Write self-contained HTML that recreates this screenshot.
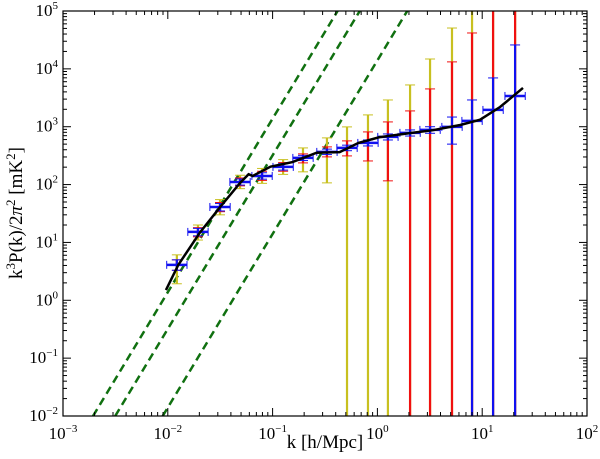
<!DOCTYPE html>
<html><head><meta charset="utf-8"><style>
html,body{margin:0;padding:0;background:#fff;width:600px;height:459px;overflow:hidden;}
svg{display:block;font-family:"Liberation Serif",serif;overflow:hidden;}
</style></head><body>
<svg id="chart" width="600" height="459" viewBox="0 0 600 459" xmlns="http://www.w3.org/2000/svg">
<rect width="600" height="459" fill="#fff"/>
<g id="plot"></g>
<text x="325" y="448" font-size="19" text-anchor="middle">k [h/Mpc]</text>
<text transform="translate(22,213) rotate(-90)" font-size="19" text-anchor="middle">k<tspan dy="-7" font-size="13">3</tspan><tspan dy="7">P(k)/2</tspan><tspan font-style="italic">π</tspan><tspan dy="-7" font-size="13">2</tspan><tspan dy="7"> [mK</tspan><tspan dy="-7" font-size="13">2</tspan><tspan dy="7">]</tspan></text>
</svg>
<script>
// ---- data ----
const lineK = [0.0096,0.0126,0.0204,0.0316,0.049,0.059,0.0646,0.0955,0.155,0.263,0.436,0.66,1.05,2.04,3.39,6.17,9.55,14.8,24.5];
const lineP = [1.5,4.1,15.1,41,107,151,141,204,245,355,363,525,660,776,871,1070,1320,2190,4680];
const binK = [0.0122,0.0194,0.0315,0.0489,0.0793,0.126,0.195,0.330,0.513,0.813,1.26,2.05,3.18,5.15,8.0,12.7,20.6];
const binP = [4.1,15.2,41,111,141,202,289,367,430,525,667,782,881,993,1260,1950,3400];
const yellowUp = [6.1,20,55,145,190,270,430,641,993,1600,2900,5270,14800,50800,1e7,1e7,1e7];
const yellowLo = [1.93,11,30,85,105,150,166,107,0,0,0,0,0,0,0,0,0];
const redUp = [5,18,49,130,170,240,339,448,569,813,1210,1875,4500,13200,41700,1e7,1e7];
const redLo = [3.3,12.5,34,95,118,170,237,301,313,256,116,0,0,0,0,0,0];
const blueUp = [5,17.5,47,125,160,230,320,410,480,590,750,880,1000,1470,2900,6970,25900];
const blueLo = [3.3,13,35,98,124,178,260,330,385,465,590,690,770,500,0,0,0];
const slopeAmps = [1.38e6,3.2e5,1.4e4];
const xTicks = [-3,-2,-1,0,1,2];
const yTicks = [-2,-1,0,1,2,3,4,5];

// ---- axes ----
const L=63,R=587,T=11,B=416;
const X = k => L + (Math.log10(k)+3)/5*(R-L);
const Y = p => { if(p<=0) return B; const v = T + (5-Math.log10(p))/7*(B-T); return Math.max(T, Math.min(B,v)); };
const NS="http://www.w3.org/2000/svg";
const plot=document.getElementById('plot');
function mk(tag,attrs,parent){const e=document.createElementNS(NS,tag);for(const a in attrs)e.setAttribute(a,attrs[a]);(parent||plot).appendChild(e);return e;}

const clipDefs=mk('defs',{});
const cp=mk('clipPath',{id:'clip'},clipDefs);
mk('rect',{x:L,y:T,width:R-L,height:B-T},cp);
const data=mk('g',{'clip-path':'url(#clip)'});



slopeAmps.forEach((A,i)=>{
  const p1=1e-2,p2=1e5;
  const k1=Math.cbrt(p1/A),k2=Math.cbrt(p2/A);
  const l=mk('line',{x1:X(k1),y1:Y(p1),x2:X(k2),y2:Y(p2),stroke:'#107010','stroke-width':2.5,'stroke-dasharray':'8,5'},data);
  
  
});

function errSeries(up,lo,color,name,cap){
  binK.forEach((k,i)=>{
    const x=X(k);
    const g=mk('g',{},data);
    
    
    mk('line',{x1:x,x2:x,y1:Y(up[i]),y2:Y(lo[i]),stroke:color,'stroke-width':2.2},g);
    [up[i],lo[i]].forEach(v=>{ if(v>0 && v<1e5) mk('line',{x1:x-cap,x2:x+cap,y1:Y(v),y2:Y(v),stroke:color,'stroke-width':1},g);});
  });
}
errSeries(yellowUp,yellowLo,'#c8c020','yellow',5);
errSeries(redUp,redLo,'#f01010','red',5);
errSeries(blueUp,blueLo,'#1010f0','blue',5);

binK.forEach((k,i)=>{
  const xa=X(k/1.25),xb=X(k*1.25),y=Y(binP[i]);
  const g=mk('g',{},data);
  
  
  mk('line',{x1:xa,x2:xb,y1:y,y2:y,stroke:'#1010f0','stroke-width':2.5},g);
  mk('line',{x1:xa,x2:xa,y1:y-4,y2:y+4,stroke:'#1010f0','stroke-width':1},g);
  mk('line',{x1:xb,x2:xb,y1:y-4,y2:y+4,stroke:'#1010f0','stroke-width':1},g);
});

const pl=mk('polyline',{points:lineK.map((k,i)=>X(k)+','+Y(lineP[i])).join(' '),fill:'none',stroke:'#000','stroke-width':2.5},data);



const fr=mk('rect',{x:L,y:T,width:R-L,height:B-T,fill:'none',stroke:'#000','stroke-width':1.2});



const tg=mk('g',{stroke:'#000','stroke-width':1});


xTicks.forEach(d=>{
  const x=X(10**d);
  mk('line',{x1:x,x2:x,y1:B,y2:B-8},tg);mk('line',{x1:x,x2:x,y1:T,y2:T+8},tg);
  if(d<2) for(let m=2;m<10;m++){const xm=X(m*10**d);mk('line',{x1:xm,x2:xm,y1:B,y2:B-4},tg);mk('line',{x1:xm,x2:xm,y1:T,y2:T+4},tg);}
  const t=mk('text',{x:x,y:B+23,'font-size':17,'text-anchor':'middle'});
  
  
  t.innerHTML='10<tspan dy="-7" font-size="11">'+(d<0?'−':'')+Math.abs(d)+'</tspan>';
});
yTicks.forEach(d=>{
  const y=Y(10**d);
  mk('line',{x1:L,x2:L+8,y1:y,y2:y},tg);mk('line',{x1:R,x2:R-8,y1:y,y2:y},tg);
  if(d<5) for(let m=2;m<10;m++){const ym=Y(m*10**d);mk('line',{x1:L,x2:L+4,y1:ym,y2:ym},tg);mk('line',{x1:R,x2:R-4,y1:ym,y2:ym},tg);}
  const t=mk('text',{x:L-5,y:y+5,'font-size':17,'text-anchor':'end'});
  
  
  t.innerHTML='10<tspan dy="-7" font-size="11">'+(d<0?'−':'')+Math.abs(d)+'</tspan>';
});
</script>
</body></html>
